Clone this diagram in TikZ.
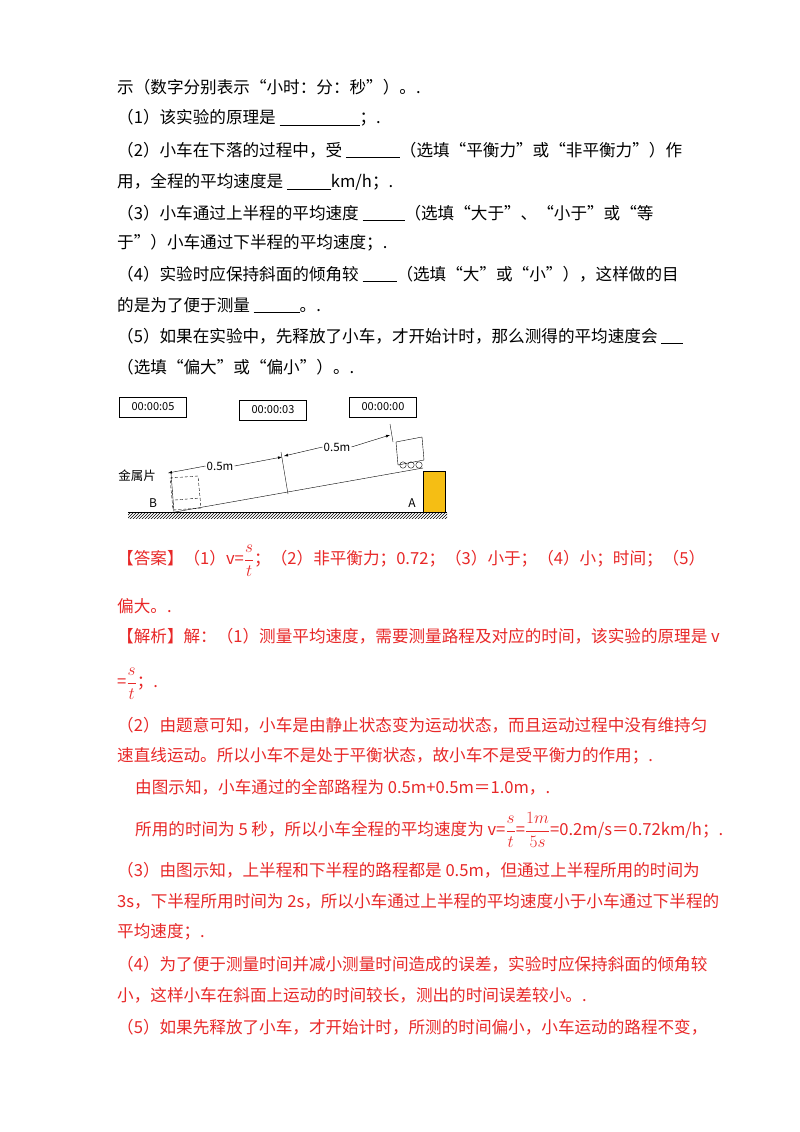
\documentclass[tikz,border=0pt]{standalone}
\usepackage{fontspec}
\setmainfont{Noto Sans CJK SC}
\usetikzlibrary{patterns}
\definecolor{ans}{RGB}{232,40,40}
\definecolor{blk}{RGB}{245,190,20}
\newcommand{\myfr}[2]{$\displaystyle\frac{#1}{#2}$}
\begin{document}
\begin{tikzpicture}[x=1pt,y=-1pt,
  ln/.style={anchor=west,inner sep=0pt,font=\fontsize{16.6}{18}\selectfont},
  rl/.style={ln,text=ans},
  tb/.style={draw,thick,inner sep=0pt,minimum width=67pt,minimum height=20pt,font=\fontsize{11}{12}\selectfont\rmfamily},
  ml/.style={font=\fontsize{11.5}{12}\selectfont\rmfamily,fill=white,inner sep=1pt}]
\useasboundingbox (0,0) rectangle (800,1132);
\fill[white] (0,0) rectangle (800,1132);
\node[ln] (l1) at (117,87) {示（数字分别表示“小时：分：秒”）。.};
\node[ln] (l2) at (117,118) {（1）该实验的原理是 \underline{\hspace{80pt}}；.};
\node[ln] (l3) at (117,150) {（2）小车在下落的过程中，受 \underline{\hspace{54pt}}（选填“平衡力”或“非平衡力”）作};
\node[ln] (l4) at (117,182) {用，全程的平均速度是 \underline{\hspace{44pt}}km/h；.};
\node[ln] (l5) at (117,213) {（3）小车通过上半程的平均速度 \underline{\hspace{42pt}}（选填“大于”、“小于”或“等};
\node[ln] (l6) at (117,243) {于”）小车通过下半程的平均速度；.};
\node[ln] (l7) at (117,274) {（4）实验时应保持斜面的倾角较 \underline{\hspace{34pt}}（选填“大”或“小”），这样做的目};
\node[ln] (l8) at (117,305) {的是为了便于测量 \underline{\hspace{46pt}}。.};
\node[ln] (l9) at (117,336) {（5）如果在实验中，先释放了小车，才开始计时，那么测得的平均速度会 \underline{\hspace{22pt}}};
\node[ln] (l10) at (117,367) {（选填“偏大”或“偏小”）。.};
% figure
\node[tb] (t1) at (153,407) {00:00:05};
\node[tb] (t2) at (273,410) {00:00:03};
\node[tb] (t3) at (383,407) {00:00:00};
\fill[pattern=north east lines] (128,512) rectangle (447,518);
\draw (128,512) -- (447,512);
\draw[fill=blk] (423,471) rectangle (445,512);
\draw (175,512) -- (423,468);
\draw (171,473) -- (174,512);
\draw[densely dashed] (170,478) -- (198,476) -- (201,508) -- (173,510) -- cycle;
\draw[densely dashed] (175,500) -- (200,498);
\draw (396,442) -- (422,437) -- (424,460) -- (398,465) -- cycle;
\foreach \xx in {403,411,419} \draw (\xx,465) circle (3.2);
\draw (288,494) -- (281,452);
\draw (393,442) -- (390,424);
\node[ml] (m1) at (220,466) {0.5m};
\node[ml] (m2) at (337,447) {0.5m};
\draw[-latex] (m1.west) -- (168,473);
\draw[-latex] (m1.east) -- (282,457);
\draw[-latex] (m2.west) -- (284,456);
\draw[-latex] (m2.east) -- (390,435);
\node[font=\fontsize{12.5}{13}\selectfont] (jsp) at (137,476) {金属片};
\node[font=\fontsize{12}{13}\selectfont\rmfamily] (B) at (153,503) {B};
\node[font=\fontsize{12}{13}\selectfont\rmfamily] (A) at (412,503) {A};
% answers
\node[rl] (r1) at (117,561) {【答案】（1）v=\myfr{s}{t}；（2）非平衡力；0.72；（3）小于；（4）小；时间；（5）};
\node[rl] (r2) at (117,606) {偏大。.};
\node[rl] (r3) at (117,636) {【解析】解：（1）测量平均速度，需要测量路程及对应的时间，该实验的原理是 v};
\node[rl] (r4) at (117,684) {=\myfr{s}{t}；.};
\node[rl] (r5) at (117,725) {（2）由题意可知，小车是由静止状态变为运动状态，而且运动过程中没有维持匀};
\node[rl] (r6) at (117,756) {速直线运动。所以小车不是处于平衡状态，故小车不是受平衡力的作用；.};
\node[rl] (r7) at (135,787) {由图示知，小车通过的全部路程为 0.5m+0.5m＝1.0m，.};
\node[rl] (r8) at (135,830) {所用的时间为 5 秒，所以小车全程的平均速度为 v=\myfr{s}{t}=\myfr{1m}{5s}=0.2m/s＝0.72km/h；.};
\node[rl] (r9) at (117,870) {（3）由图示知，上半程和下半程的路程都是 0.5m，但通过上半程所用的时间为};
\node[rl] (r10) at (117,901) {3s，下半程所用时间为 2s，所以小车通过上半程的平均速度小于小车通过下半程的};
\node[rl] (r11) at (117,932) {平均速度；.};
\node[rl] (r12) at (117,964) {（4）为了便于测量时间并减小测量时间造成的误差，实验时应保持斜面的倾角较};
\node[rl] (r13) at (117,995) {小，这样小车在斜面上运动的时间较长，测出的时间误差较小。.};
\node[rl] (r14) at (117,1027) {（5）如果先释放了小车，才开始计时，所测的时间偏小，小车运动的路程不变，};
\end{tikzpicture}
\end{document}
